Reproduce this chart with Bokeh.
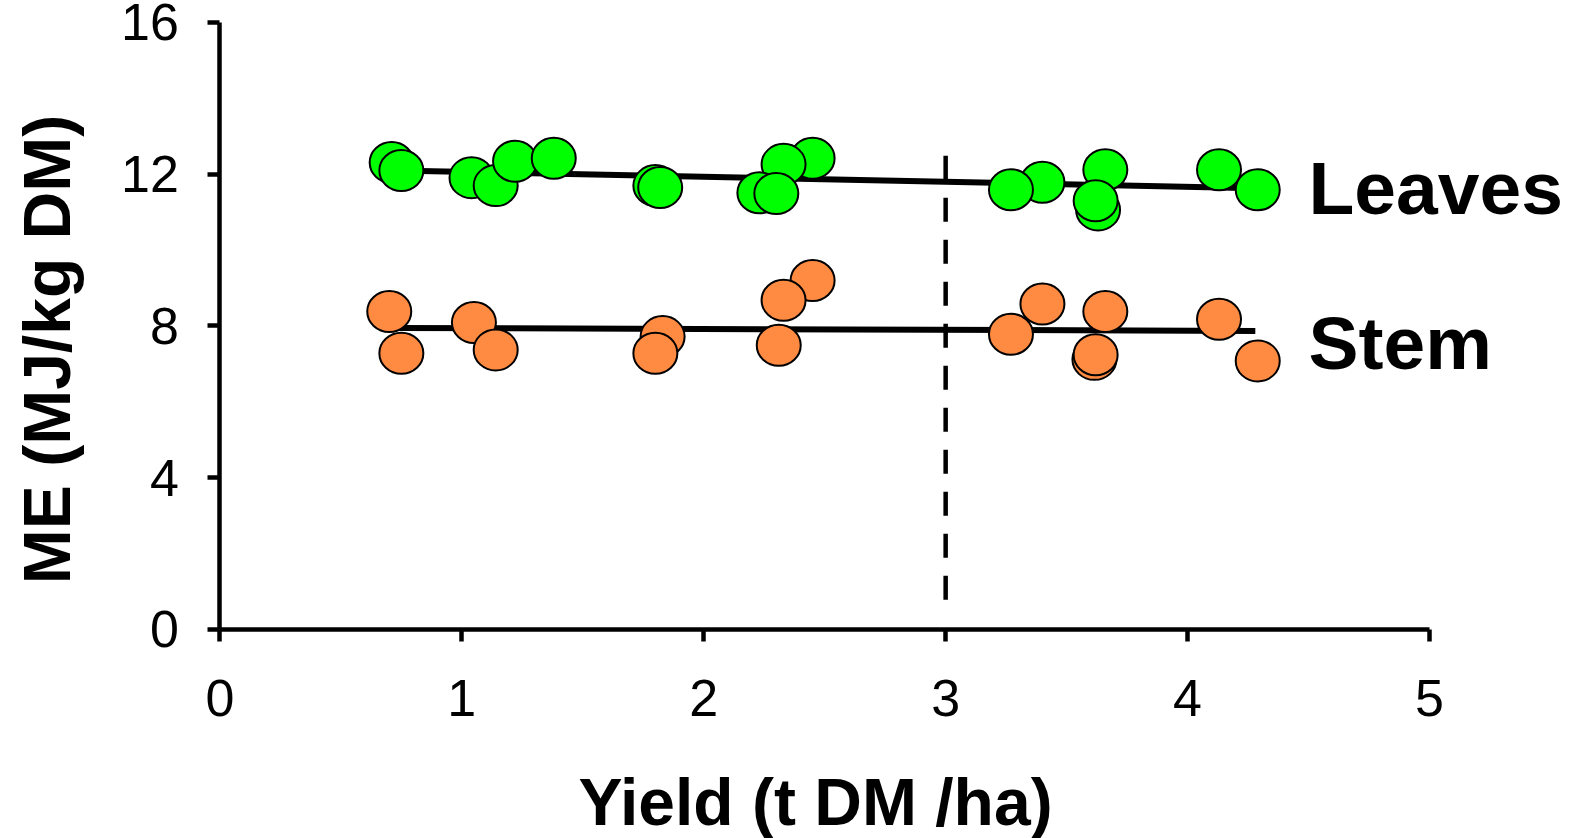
import math
from bokeh.plotting import figure
from bokeh.models import Range1d, FixedTicker, Label
from bokeh.embed import file_html
from bokeh.resources import INLINE

# ---- data ----
x_ticks = [0, 1, 2, 3, 4, 5]
y_ticks = [0, 4, 8, 12, 16]

leaves_x = [0.71, 0.75, 1.04, 1.14, 1.22, 1.38, 1.80, 1.82, 2.45, 2.33, 2.23, 2.30,
            3.40, 3.27, 3.66, 3.63, 3.62, 4.13, 4.29]
leaves_y = [12.31, 12.10, 11.91, 11.70, 12.34, 12.42, 11.70, 11.65, 12.42, 12.26, 11.51, 11.49,
            11.79, 11.59, 12.12, 11.06, 11.30, 12.12, 11.59]

stem_x = [0.70, 0.75, 1.05, 1.14, 1.83, 1.80, 2.45, 2.33, 2.31, 3.40, 3.27, 3.66,
          3.615, 3.62, 4.13, 4.29]
stem_y = [8.38, 7.28, 8.09, 7.37, 7.72, 7.28, 9.20, 8.68, 7.49, 8.58, 7.78, 8.38,
          7.12, 7.24, 8.18, 7.08]

fit_x = [0.72, 4.28]
leaves_fit = [12.10, 11.63]
stem_fit = [7.95, 7.87]

threshold_x = [3.0, 3.0]
threshold_y = [12.49, 0.68]

FONT = "Liberation Sans"
GREEN = "#00FF00"
ORANGE = "#FF8B42"

p = figure(width=1578, height=838, output_backend="svg", toolbar_location=None,
           x_range=Range1d(-0.907, 5.616), y_range=Range1d(-5.509, 16.579),
           min_border_left=0, min_border_right=0, min_border_top=0,
           min_border_bottom=0)
p.title.visible = False
p.grid.visible = False
p.outline_line_color = None
p.background_fill_color = "white"
p.border_fill_color = "white"

for ax in (p.xaxis[0], p.yaxis[0]):
    ax.fixed_location = 0
    ax.axis_line_width = 4.5
    ax.axis_line_color = "black"
    ax.major_tick_line_width = 4.5
    ax.major_tick_line_color = "black"
    ax.major_tick_out = 12
    ax.major_tick_in = 0
    ax.minor_tick_out = 0
    ax.minor_tick_in = 0
    ax.major_label_text_font = FONT
    ax.major_label_text_font_size = "52px"
    ax.major_label_text_color = "black"

p.xaxis.ticker = FixedTicker(ticks=x_ticks)
p.yaxis.ticker = FixedTicker(ticks=y_ticks)
p.xaxis.bounds = (0, 5)
p.yaxis.bounds = (0, 16)
p.xaxis.major_label_standoff = 39
p.yaxis.major_label_standoff = 29

# threshold dashed line
p.line(threshold_x, threshold_y, line_color="black", line_width=4.5, line_dash="24 18")

# fitted lines
p.line(fit_x, leaves_fit, line_color="black", line_width=6)
p.line(fit_x, stem_fit, line_color="black", line_width=6)

# points
p.ellipse(leaves_x, leaves_y, width=44, height=41, width_units="screen",
          height_units="screen", fill_color=GREEN, line_color="black", line_width=2)
p.ellipse(stem_x, stem_y, width=44, height=41, width_units="screen",
          height_units="screen", fill_color=ORANGE, line_color="black", line_width=2)

# series labels
p.add_layout(Label(x=4.50, y=11.65, text="Leaves", text_font=FONT, text_font_size="75px",
                   text_font_style="bold", text_baseline="middle", text_align="left",
                   text_color="black"))
p.add_layout(Label(x=4.50, y=7.54, text="Stem", text_font=FONT, text_font_size="75px",
                   text_font_style="bold", text_baseline="middle", text_align="left",
                   text_color="black"))

# axis titles
p.add_layout(Label(x=2.462, y=-4.56, text="Yield (t DM /ha)", text_font=FONT,
                   text_font_size="66px", text_font_style="bold",
                   text_baseline="middle", text_align="center", text_color="black"))
p.add_layout(Label(x=-0.715, y=7.38, text="ME (MJ/kg DM)", text_font=FONT,
                   text_font_size="66px", text_font_style="bold", angle=math.pi / 2,
                   text_baseline="middle", text_align="center", text_color="black"))

open("out.html", "w").write(file_html(p, INLINE))
